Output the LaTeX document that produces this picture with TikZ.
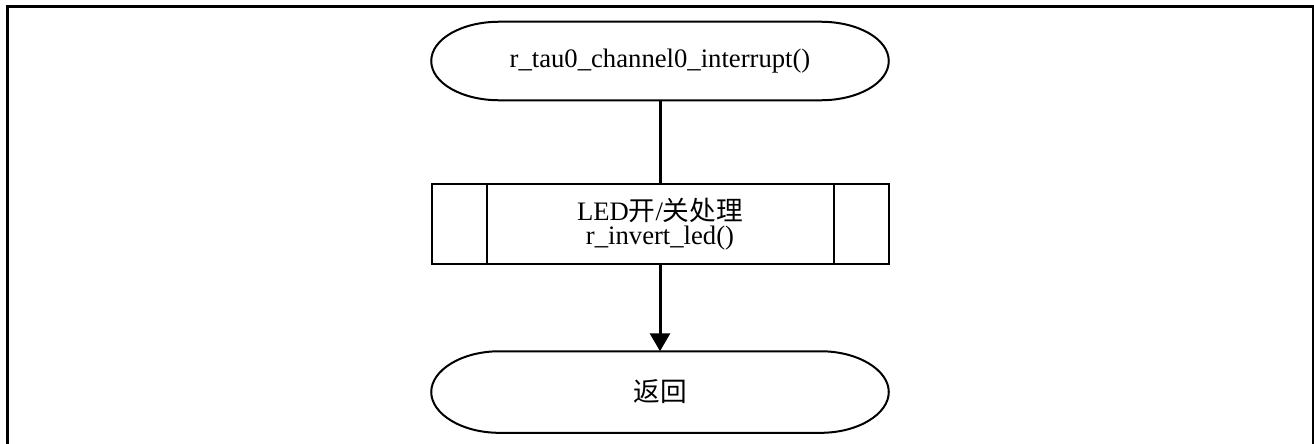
\documentclass[tikz,border=0pt]{standalone}
\usepackage{fontspec}
\setmainfont{Liberation Serif}
\newfontfamily\cjk{Noto Sans CJK SC}
\usetikzlibrary{arrows.meta,positioning}

\begin{document}
\begin{tikzpicture}[
        term/.style={
        minimum width=342.75pt,
        minimum height=58.5pt,
        inner sep=0pt,
        font=\fontsize{20}{18}\selectfont},
    proc/.style={
        draw=black,
        line width=1.5pt,
        minimum width=342.75pt,
        minimum height=60pt,
        align=center,
        font=\fontsize{20}{18.5}\selectfont},
    outline/.style={line width=1.5pt},
    link/.style={line width=2.25pt},
    myarrow/.style={-{Triangle[length=13.5pt,width=15pt]}},
    node distance=62.25pt
    ]
    \useasboundingbox (0,0) rectangle (985.5pt,-332.25pt);
    \draw[line width=2.25pt] (5.25pt,-345pt) -- (5.25pt,-4.5pt) -- (984.75pt,-4.5pt) -- (984.75pt,-345pt);

    \node[term] (start) at (495pt,-45.75pt) {r\_tau0\_channel0\_interrupt()};
    \node[proc,below=of start] (led) {LED{\cjk 开}/{\cjk 关处理}\\r\_invert\_led()};
    \node[term,minimum height=60.75pt,below=64.5pt of led] (ret) {\cjk 返回};

    % side bars of the subroutine box
    \draw[outline] ([xshift=42pt]led.north west) -- ([xshift=42pt]led.south west)
        ([xshift=-42pt]led.north east) -- ([xshift=-42pt]led.south east);

    % terminal outlines, ends are half ellipses
    \foreach \n in {start,ret}
        \draw[outline,out distance=28pt,in distance=16.5pt]
            ([xshift=51pt]\n.north west) -- ([xshift=-51pt]\n.north east)
            to[out=0,in=90] (\n.east)
            to[out=-90,in=0,out distance=16.5pt,in distance=28pt] ([xshift=-51pt]\n.south east)
            -- ([xshift=51pt]\n.south west) to[out=180,in=-90] (\n.west)
            to[out=90,in=180,out distance=16.5pt,in distance=28pt] ([xshift=51pt]\n.north west) -- cycle;

    \draw[link] (start) -- (led);
    \draw[link,myarrow] (led) -- (ret);
\end{tikzpicture}
\end{document}
